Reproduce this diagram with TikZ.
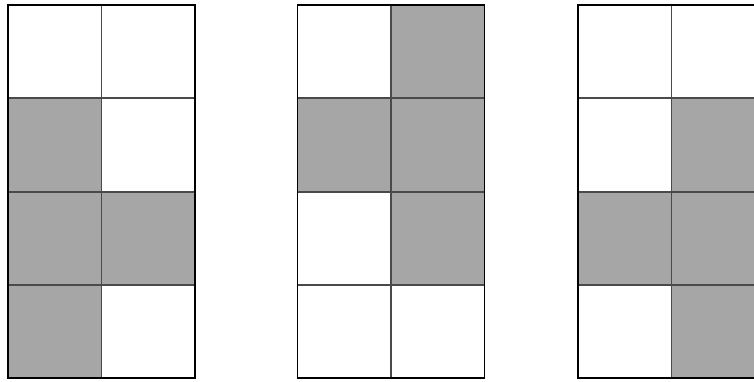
\documentclass[tikz,border=0pt]{standalone}
\usetikzlibrary{calc}
\definecolor{shade}{HTML}{A6A6A6}
\definecolor{inner}{HTML}{4A4A4A}
\tikzset{
  cellfill/.style={fill=shade, draw=none},
  innerline/.style={draw=inner, line width=1.8pt},
  outerline/.style={draw=black, line width=1.5pt},
}
% grid macro: #1 = left x (px), #2 = list of shaded cells as col/row
\newcommand{\mygrid}[2]{%
  \foreach \c/\r in {#2} {
    \fill[cellfill] ({#1+\c*93.5},{376-\r*93.3}) rectangle ++(93.5,-93.3);
  }
  \draw[innerline] ({#1+93.5},376) -- ({#1+93.5},2.8);
  \foreach \r in {1,2,3} {
    \draw[innerline] (#1,{376-\r*93.3}) -- ({#1+187},{376-\r*93.3});
  }
  \draw[outerline] (#1,376) rectangle ({#1+187},2.8);
}
\begin{document}
\begin{tikzpicture}[x=1pt,y=1pt]
\useasboundingbox (0,0) rectangle (754,381);
\clip (0,0) rectangle (754,381);
\fill[white] (0,0) rectangle (754,381);
\mygrid{8}{0/1,0/2,1/2,0/3}
\mygrid{297.5}{1/0,0/1,1/1,1/2}
\mygrid{578}{1/1,0/2,1/2,1/3}
\end{tikzpicture}
\end{document}
